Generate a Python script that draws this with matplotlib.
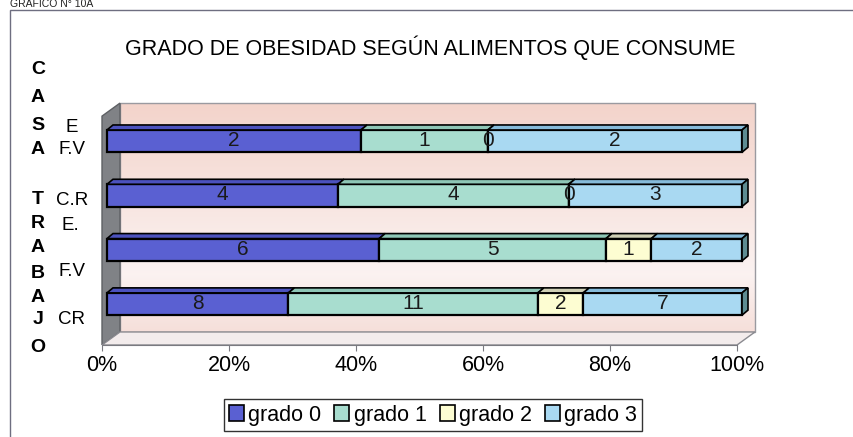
"""Grado de obesidad segun alimentos que consume (barras 100% apiladas, estilo 3D)."""

import matplotlib

matplotlib.use("Agg")

import matplotlib.pyplot as plt
import numpy as np
from matplotlib.patches import Patch, Polygon, Rectangle

plt.rcParams["font.family"] = ["Liberation Sans", "DejaVu Sans"]

# Datos (de abajo hacia arriba)
categories = ["CR", "F.V", "C.R", "F.V"]
series_names = ["grado 0", "grado 1", "grado 2", "grado 3"]
grado_0 = [8, 6, 4, 2]
grado_1 = [11, 5, 4, 1]
grado_2 = [2, 1, 0, 0]
grado_3 = [7, 2, 3, 2]
x_ticks = [0, 20, 40, 60, 80, 100]

front_colors = ["#5A60D2", "#A8DDCF", "#FDFDD2", "#A9D9F2"]
top_colors = ["#4C52BE", "#8EC6B6", "#CFCFB5", "#86BBDA"]
side_color = "#5E8C92"

# geometria del efecto 3D (en unidades de datos)
WALL_DX, WALL_DY = 2.83, 0.24
BAR_DX, BAR_DY = 0.94, 0.092
BAR_SHIFT = 0.79
BAR_H = 0.41

values = np.array([grado_0, grado_1, grado_2, grado_3], dtype=float)
percent = values / values.sum(axis=0) * 100
y_pos = np.arange(len(categories))

fig = plt.figure(figsize=(8.54, 4.37), dpi=100)
W, H = 854, 437

# marco exterior (recortado a la derecha y abajo)
fig.patches.append(
    Rectangle((10 / W, -0.2), 1.2, 1.2 - 10 / H, transform=fig.transFigure,
              fill=False, edgecolor="#6E6E80", linewidth=1.0)
)
fig.text(10 / W, 1 - 9 / H, "GRAFICO N° 10A", fontsize=7.5, ha="left",
         va="bottom", color="#222222")

ax = fig.add_axes([95 / W, 1 - 345 / H, 665 / W, 250 / H])
ax.set_xlim(-1.102, 103.62)
ax.set_ylim(-0.755, 3.849)

y_front_bot, y_back_bot = -0.755, -0.755 + WALL_DY
y_back_top = 3.70
y_front_top = y_back_top - WALL_DY

# pared del fondo con degradado
t = np.linspace(0, 1, 256)
top_rgb = np.array([0.953, 0.830, 0.795])
mid_rgb = np.array([0.985, 0.950, 0.945])
bot_rgb = np.array([0.965, 0.875, 0.855])
rgb = np.where(
    (t < 0.75)[:, None],
    top_rgb + (mid_rgb - top_rgb) * (t / 0.75)[:, None],
    mid_rgb + (bot_rgb - mid_rgb) * ((t - 0.75) / 0.25)[:, None],
)
ax.imshow(rgb.reshape(-1, 1, 3), aspect="auto",
          extent=[WALL_DX, 100 + WALL_DX, y_back_bot, y_back_top],
          origin="upper", zorder=0)
ax.add_patch(Rectangle((WALL_DX, y_back_bot), 100, y_back_top - y_back_bot,
                       fill=False, edgecolor="#9A9AA0", linewidth=1.0, zorder=1))

# pared lateral izquierda
ax.add_patch(Polygon(
    [(0, y_front_bot), (0, y_front_top), (WALL_DX, y_back_top), (WALL_DX, y_back_bot)],
    closed=True, facecolor="#808286", edgecolor="#5E6064", linewidth=1.0, zorder=1))

# piso
ax.add_patch(Polygon(
    [(0, y_front_bot), (100, y_front_bot), (100 + WALL_DX, y_back_bot), (WALL_DX, y_back_bot)],
    closed=True, facecolor="#F3ECEC", edgecolor="#8A8A90", linewidth=1.0, zorder=1))

# barras
left = np.zeros(len(categories))
for i, name in enumerate(series_names):
    widths = percent[i]
    ax.barh(y_pos, widths, left=left + BAR_SHIFT, height=BAR_H,
            color=front_colors[i], edgecolor="black", linewidth=1.6, zorder=3)
    for j, (x0, w) in enumerate(zip(left + BAR_SHIFT, widths)):
        yt = y_pos[j] + BAR_H / 2
        ax.add_patch(Polygon(
            [(x0, yt), (x0 + w, yt), (x0 + w + BAR_DX, yt + BAR_DY), (x0 + BAR_DX, yt + BAR_DY)],
            closed=True, facecolor=top_colors[i], edgecolor="black", linewidth=1.2, zorder=3))
        ax.text(x0 + w / 2, y_pos[j] + 0.01, f"{int(values[i, j])}", ha="center",
                va="center", fontsize=15, color="#1A1A1A", zorder=5)
    left = left + widths

# cara lateral derecha
for j in range(len(categories)):
    x1 = left[j] + BAR_SHIFT
    yb, yt = y_pos[j] - BAR_H / 2, y_pos[j] + BAR_H / 2
    ax.add_patch(Polygon(
        [(x1, yb), (x1, yt), (x1 + BAR_DX, yt + BAR_DY), (x1 + BAR_DX, yb + BAR_DY)],
        closed=True, facecolor=side_color, edgecolor="black", linewidth=1.2, zorder=3))

# ejes
for side in ["left", "top", "right"]:
    ax.spines[side].set_visible(False)
ax.spines["bottom"].set_bounds(0, 100)
ax.spines["bottom"].set_color("#7A7A80")
ax.spines["bottom"].set_zorder(2)
ax.set_xticks(x_ticks)
ax.set_xticklabels([f"{v}%" for v in x_ticks], fontsize=15.5)
ax.tick_params(axis="x", direction="out", length=4, color="#7A7A80", pad=3)
ax.set_yticks([])

# etiquetas de categorias
cat_texts = [("CR", 72, 320), ("F.V", 72, 272), ("E.", 70, 225),
             ("C.R", 72, 200), ("F.V", 72, 150), ("E", 72, 127)]
for txt, xx, yy in cat_texts:
    fig.text(xx / W, 1 - yy / H, txt, fontsize=13.5, ha="center", va="center")

side_letters = ["C", "A", "S", "A", "T", "R", "A", "B", "A", "J", "O"]
side_y = [70, 98, 125, 150, 199, 224, 248, 273, 298, 320, 347]
for letter, yy in zip(side_letters, side_y):
    fig.text(38 / W, 1 - yy / H, letter, fontsize=14, fontweight="bold",
             ha="center", va="center")

fig.text(430 / W, 1 - 48 / H, "GRADO DE OBESIDAD SEGÚN ALIMENTOS QUE CONSUME",
         fontsize=15.5, ha="center", va="center")

handles = [Patch(facecolor=c, edgecolor="black", linewidth=1.2) for c in front_colors]
leg = fig.legend(handles, series_names, loc="center", bbox_to_anchor=(433 / W, 1 - 415 / H),
                 ncol=4, fontsize=15.5, frameon=True, fancybox=False, edgecolor="black",
                 handlelength=0.7, handleheight=0.7, handletextpad=0.2,
                 columnspacing=0.6, borderpad=0.25)
leg.get_frame().set_linewidth(1.0)

fig.savefig("out.png", dpi=100)
